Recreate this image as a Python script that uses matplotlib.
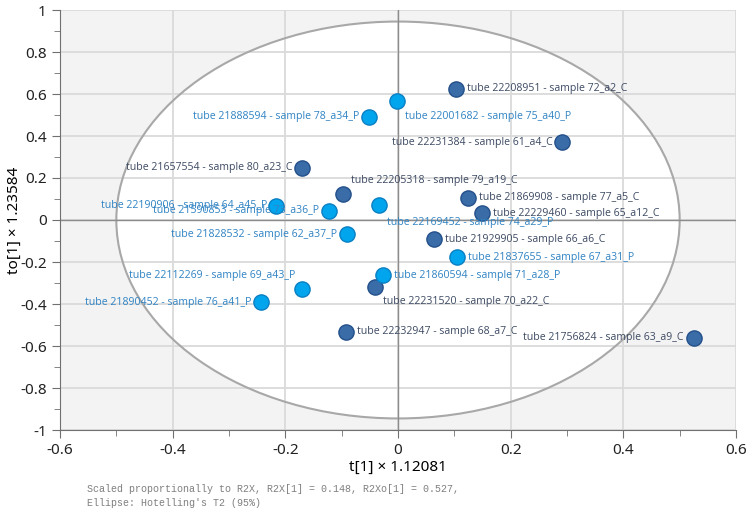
import numpy as np
import matplotlib.pyplot as plt
from matplotlib.patches import Ellipse
from matplotlib.ticker import MultipleLocator

# OPLS-DA scores, control (C) group
c_names = ['tube 22208951 - sample 72_a2_C', 'tube 22231384 - sample 61_a4_C',
           'tube 21657554 - sample 80_a23_C', 'tube 22205318 - sample 79_a19_C',
           'tube 21869908 - sample 77_a5_C', 'tube 22229460 - sample 65_a12_C',
           'tube 21929905 - sample 66_a6_C', 'tube 22231520 - sample 70_a22_C',
           'tube 22232947 - sample 68_a7_C', 'tube 21756824 - sample 63_a9_C']
c_t = [0.103, 0.292, -0.170, -0.098, 0.124, 0.149, 0.064, -0.041, -0.093, 0.525]
c_to = [0.624, 0.370, 0.249, 0.122, 0.106, 0.032, -0.092, -0.318, -0.532, -0.560]

# patient (P) group
p_names = ['tube 21888594 - sample 78_a34_P', 'tube 22001682 - sample 75_a40_P',
           'tube 22190906 - sample 64_a45_P', 'tube 21590853 - sample 73_a36_P',
           'tube 22169452 - sample 74_a29_P', 'tube 21828532 - sample 62_a37_P',
           'tube 21837655 - sample 67_a31_P', 'tube 21860594 - sample 71_a28_P',
           'tube 22112269 - sample 69_a43_P', 'tube 21890452 - sample 76_a41_P']
p_t = [-0.051, -0.001, -0.216, -0.122, -0.033, -0.091, 0.104, -0.026, -0.170, -0.243]
p_to = [0.492, 0.567, 0.068, 0.043, 0.071, -0.068, -0.178, -0.262, -0.330, -0.392]

# Hotelling's T2 ellipse half-widths
ell_a = 0.5
ell_b = 0.945

# label offsets in pixels (dx, dy, ha)
R = (11, 0, 'left')
L = (-10, 0, 'right')
label_pos = {
    '72_a2_C': R, '61_a4_C': L, '80_a23_C': L, '79_a19_C': (8, 14, 'left'),
    '77_a5_C': R, '65_a12_C': R, '66_a6_C': R, '70_a22_C': (8, -15, 'left'),
    '68_a7_C': R, '63_a9_C': L,
    '78_a34_P': L, '75_a40_P': (8, -16, 'left'), '64_a45_P': (-9, 0, 'right'),
    '73_a36_P': L, '74_a29_P': (8, -17, 'left'), '62_a37_P': L,
    '67_a31_P': R, '71_a28_P': R, '69_a43_P': (-7, 14, 'right'), '76_a41_P': L,
}

fig = plt.figure(figsize=(7.47, 5.22), dpi=100)
ax = fig.add_axes([60 / 747, 1 - 430 / 522, 676 / 747, 420 / 522])
ax.set_facecolor('#f3f3f3')

ax.add_patch(Ellipse((0, 0), 2 * ell_a, 2 * ell_b, facecolor='white',
                     edgecolor='none', zorder=0.2))
ax.add_patch(Ellipse((0, 0), 2 * ell_a, 2 * ell_b, facecolor='none',
                     edgecolor='#a8a8a8', lw=1.5, zorder=1))

ax.set_xlim(-0.6, 0.6)
ax.set_ylim(-1, 1)
ax.xaxis.set_major_locator(MultipleLocator(0.2))
ax.xaxis.set_minor_locator(MultipleLocator(0.1))
ax.yaxis.set_major_locator(MultipleLocator(0.2))
ax.yaxis.set_minor_locator(MultipleLocator(0.1))
ax.grid(True, which='major', color='#dadada', lw=1.3)
ax.set_axisbelow(True)
ax.axhline(0, color='#8c8c8c', lw=1, zorder=1.1)
ax.axvline(0, color='#8c8c8c', lw=1, zorder=1.1)

for s in ['top', 'right']:
    ax.spines[s].set_visible(False)
for s in ['left', 'bottom']:
    ax.spines[s].set_color('#707070')
ax.tick_params(which='major', length=6, color='#707070', labelsize=11,
               labelcolor='#222222')
ax.tick_params(which='minor', length=4, color='#707070')


def fmt(v, pos):
    v = round(v, 6)
    return '0' if v == 0 else f'{v:g}'


ax.xaxis.set_major_formatter(plt.FuncFormatter(fmt))
ax.yaxis.set_major_formatter(plt.FuncFormatter(fmt))
for lab in ax.get_xticklabels() + ax.get_yticklabels():
    lab.set_fontfamily('Noto Sans')

ax.set_xlabel('t[1] × 1.12081', fontsize=11, family='Noto Sans')
ax.set_ylabel('to[1] × 1.23584', fontsize=11, family='Noto Sans')
ax.xaxis.set_label_coords(0.5, -30 / 420, transform=ax.transAxes)
ax.yaxis.set_label_coords(-38 / 676, 0.5, transform=ax.transAxes)

ax.scatter(c_t, c_to, s=120, c='#3a6ca8', edgecolors='#24508a', lw=1, zorder=3)
ax.scatter(p_t, p_to, s=120, c='#00a5ee', edgecolors='#0a7fc2', lw=1, zorder=4)


def put_labels(names, xs, ys, color):
    for n, x, y in zip(names, xs, ys):
        dx, dy, ha = label_pos[n.split('sample ')[1]]
        ax.annotate(n, (x, y), xytext=(dx * 0.72, dy * 0.72),
                    textcoords='offset points', ha=ha, va='center',
                    fontsize=7.6, color=color, family='Open Sans', zorder=5)


put_labels(c_names, c_t, c_to, '#3d4a63')
put_labels(p_names, p_t, p_to, '#2f83c3')

fig.text(87 / 747, 1 - 484 / 522,
         "Scaled proportionally to R2X, R2X[1] = 0.148, R2Xo[1] = 0.527,\n"
         "Ellipse: Hotelling's T2 (95%)",
         ha='left', va='top', fontsize=7.2, family='Liberation Mono',
         color='#7f7f7f', linespacing=1.5)

fig.savefig('out.png', dpi=100)
